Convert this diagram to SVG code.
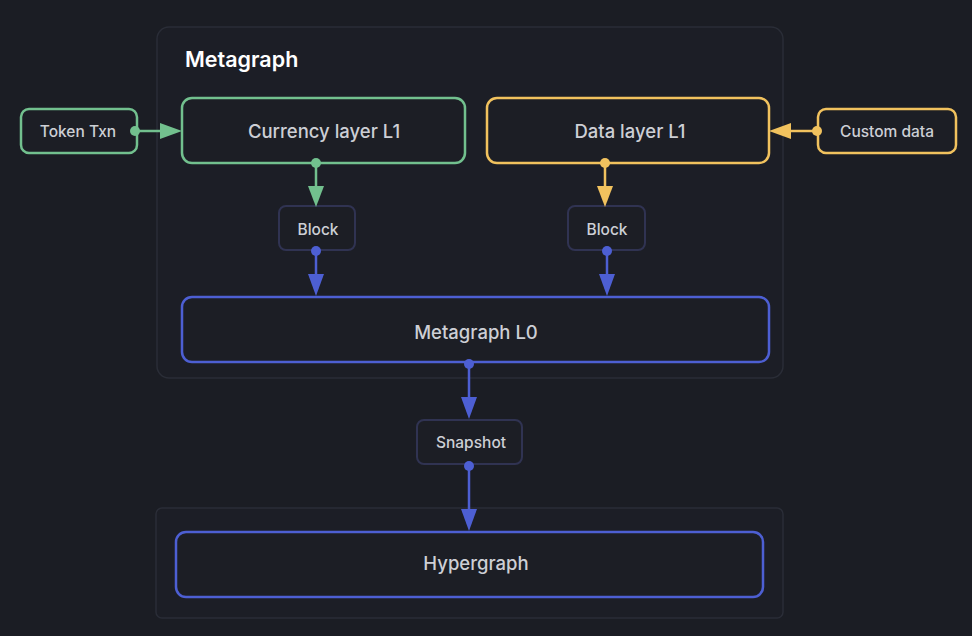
<svg xmlns="http://www.w3.org/2000/svg" width="972" height="636" viewBox="0 0 972 636">
<defs>
<style>
.bg{fill:#1b1d24}
.cont{fill:#1c1e26;stroke:#2a2d37;stroke-width:1.5}
.node{fill:#1c1e25;stroke-width:2.5}
.g{stroke:#72c08e}
.y{stroke:#f1c25e}
.b{stroke:#4d5fd3}
.s{stroke:#303352;stroke-width:2}
.t{font-family:Inter,"Liberation Sans",sans-serif;fill:#cdcfd5;text-anchor:middle;dominant-baseline:central;font-weight:500}
.big{font-size:18.5px}
.sm{font-size:15.5px}
.title{font-family:Inter,"Liberation Sans",sans-serif;font-size:21.5px;font-weight:600;fill:#ffffff}
.e{fill:none;stroke-width:2.5}
</style>
</defs>
<rect class="bg" x="0" y="0" width="972" height="636"/>
<g id="metagraph-container">
<rect class="cont" x="157" y="27" width="626" height="351" rx="12"/>
<text class="title" x="185" y="67">Metagraph</text>
</g>
<g id="hypergraph-container">
<rect class="cont" x="156" y="508" width="627" height="110" rx="6"/>
</g>
<g id="token-txn"><rect class="node g" x="21" y="109" width="116" height="44" rx="8"/><text class="t sm" x="78" y="131">Token Txn</text></g>
<g id="currency-l1"><rect class="node g" x="182" y="98" width="283" height="65" rx="10"/><text class="t big" x="324" y="131">Currency layer L1</text></g>
<g id="data-l1"><rect class="node y" x="487" y="98" width="282" height="65" rx="10"/><text class="t big" x="630" y="131">Data layer L1</text></g>
<g id="custom-data"><rect class="node y" x="818" y="109" width="138" height="44" rx="8"/><text class="t sm" x="887" y="131">Custom data</text></g>
<g id="block-1"><rect class="node s" x="279" y="206" width="76" height="44" rx="7"/><text class="t sm" x="318" y="229">Block</text></g>
<g id="block-2"><rect class="node s" x="568" y="206" width="77" height="44" rx="7"/><text class="t sm" x="607" y="229">Block</text></g>
<g id="metagraph-l0"><rect class="node b" x="182" y="297" width="587" height="65" rx="10"/><text class="t big" x="476" y="332">Metagraph L0</text></g>
<g id="snapshot"><rect class="node s" x="417" y="420" width="105" height="44" rx="7"/><text class="t sm" x="471" y="442">Snapshot</text></g>
<g id="hypergraph"><rect class="node b" x="176" y="532" width="587" height="65" rx="10"/><text class="t big" x="476" y="563">Hypergraph</text></g>
<g id="connectors">
<path class="e" d="M135,131 H160" stroke="#72c08e"/>
<path d="M160,123 L182,131 L160,139 Z" fill="#72c08e"/>
<circle cx="135" cy="131" r="5" fill="#72c08e"/>
<path class="e" d="M316,163 V186" stroke="#72c08e"/>
<path d="M308,186 L316,207 L324,186 Z" fill="#72c08e"/>
<circle cx="316" cy="163" r="5" fill="#72c08e"/>
<path class="e" d="M817,131 H791" stroke="#f1c25e"/>
<path d="M791,123 L769,131 L791,139 Z" fill="#f1c25e"/>
<circle cx="817" cy="131" r="5" fill="#f1c25e"/>
<path class="e" d="M605,163 V186" stroke="#f1c25e"/>
<path d="M597,186 L605,207 L613,186 Z" fill="#f1c25e"/>
<circle cx="605" cy="163" r="5" fill="#f1c25e"/>
<path class="e" d="M316,251 V275" stroke="#4d5fd3"/>
<path d="M308,274 L316,296 L324,274 Z" fill="#4d5fd3"/>
<circle cx="316" cy="251" r="5" fill="#4d5fd3"/>
<path class="e" d="M607,251 V275" stroke="#4d5fd3"/>
<path d="M599,274 L607,296 L615,274 Z" fill="#4d5fd3"/>
<circle cx="607" cy="251" r="5" fill="#4d5fd3"/>
<path class="e" d="M469,364 V398" stroke="#4d5fd3"/>
<path d="M461,397 L469,419 L477,397 Z" fill="#4d5fd3"/>
<circle cx="469" cy="364" r="5" fill="#4d5fd3"/>
<path class="e" d="M469,466 V510" stroke="#4d5fd3"/>
<path d="M461,509 L469,531 L477,509 Z" fill="#4d5fd3"/>
<circle cx="469" cy="466" r="5" fill="#4d5fd3"/>
</g>
</svg>
